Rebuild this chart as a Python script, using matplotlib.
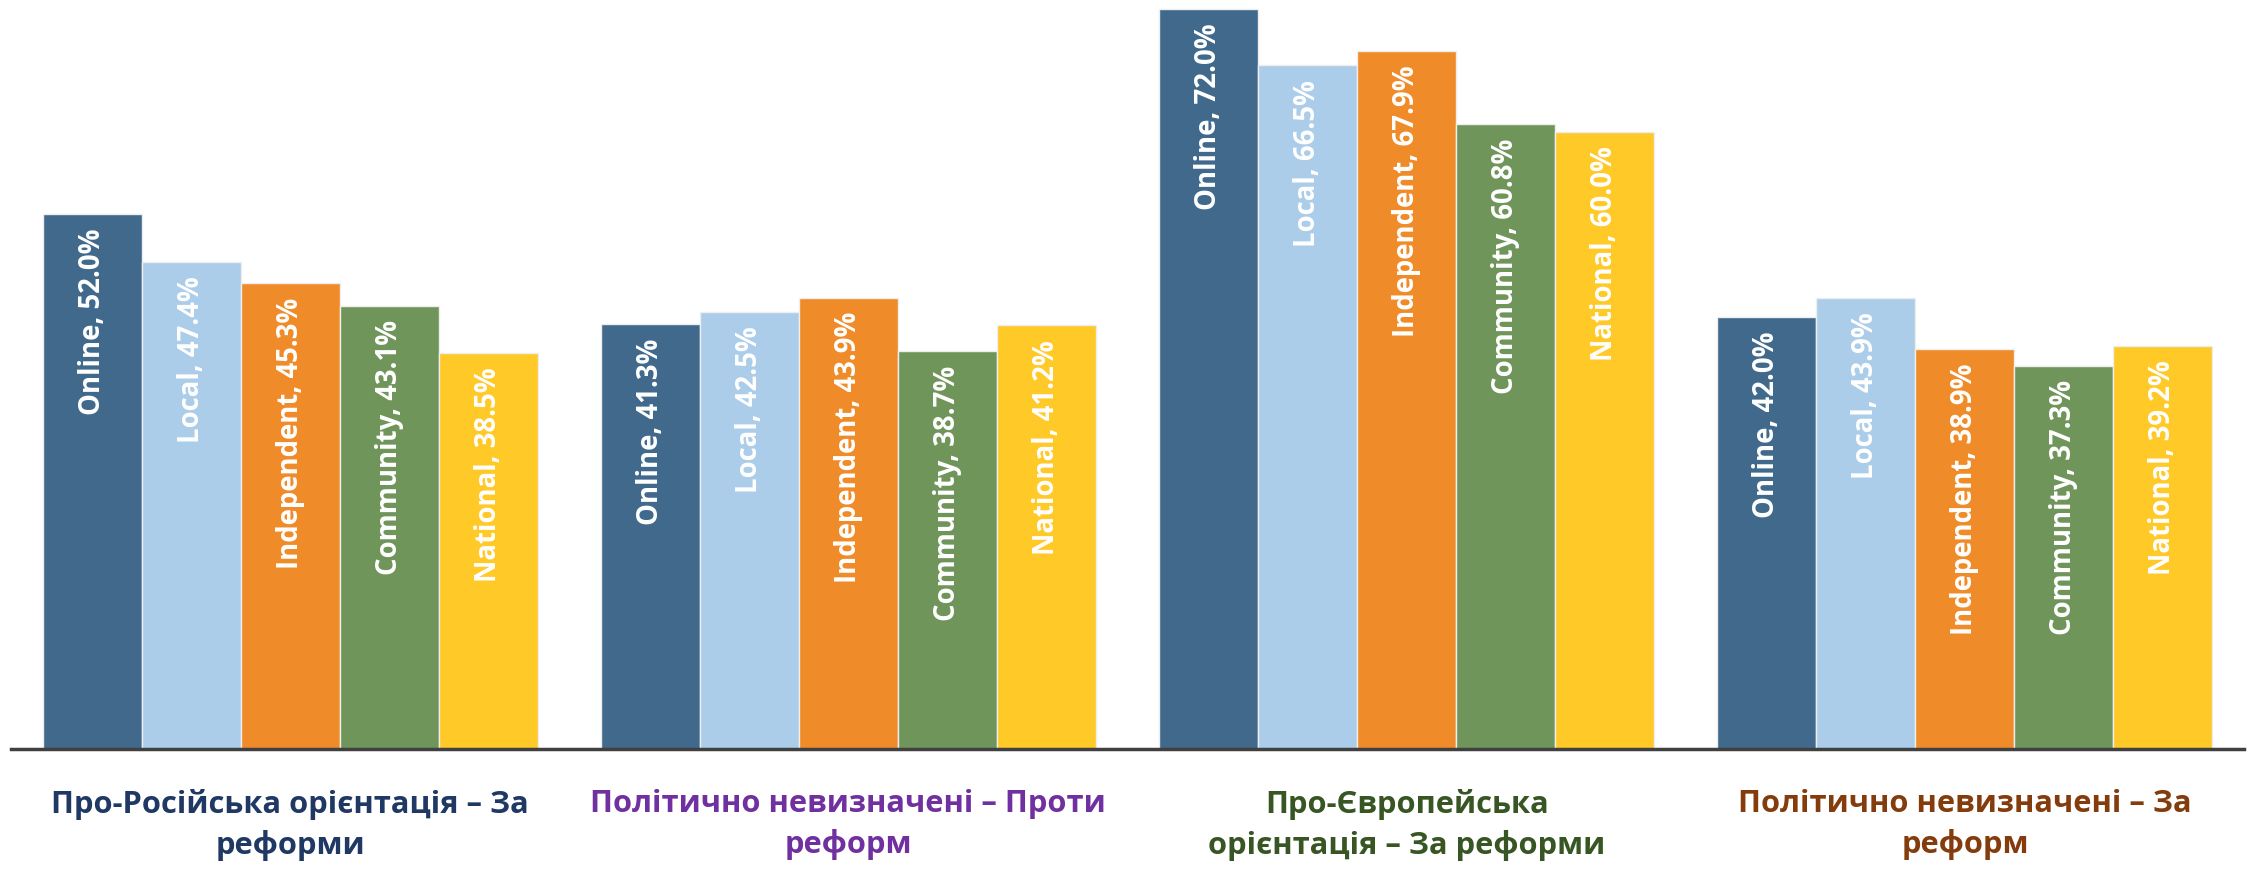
import matplotlib
matplotlib.use("Agg")
import matplotlib.pyplot as plt
import numpy as np

categories = [
    "Про-Російська орієнтація – За\nреформи",
    "Політично невизначені – Проти\nреформ",
    "Про-Європейська\nорієнтація – За реформи",
    "Політично невизначені – За\nреформ",
]
category_colors = ["#1F3864", "#7030A0", "#375623", "#843C0C"]

series = ["Online", "Local", "Independent", "Community", "National"]
series_colors = ["#41698C", "#ABCDE9", "#F08B2A", "#70955A", "#FFC928"]

online = [52.0, 41.3, 72.0, 42.0]
local = [47.4, 42.5, 66.5, 43.9]
independent = [45.3, 43.9, 67.9, 38.9]
community = [43.1, 38.7, 60.8, 37.3]
national = [38.5, 41.2, 60.0, 39.2]
values = [online, local, independent, community, national]

plt.rcParams['font.family'] = ['Open Sans', 'DejaVu Sans']

fig = plt.figure(figsize=(22.5, 8.69), dpi=100)
ax = fig.add_axes([11 / 2250, 120 / 869, (2244 - 11) / 2250, 749 / 869])

x = np.arange(len(categories))
bw = 0.1774
for i, (name, vals, col) in enumerate(zip(series, values, series_colors)):
    pos = x + (i - 2) * bw
    ax.bar(pos, vals, width=bw, color=col, edgecolor="#EEEEEE", linewidth=1.0, zorder=2)
    for px, v in zip(pos, vals):
        ax.text(px, v - 1.4, f"{name}, {v:.1f}%", rotation=90, ha="center", va="top",
                color="white", fontsize=19.8, fontweight="bold", zorder=3)

ax.set_xlim(-0.5, 3.5)
ax.set_ylim(0, 72.86)
for s in ["top", "right", "left"]:
    ax.spines[s].set_visible(False)
ax.spines["bottom"].set_color("#404040")
ax.spines["bottom"].set_linewidth(2.5)
ax.spines["bottom"].set_zorder(4)
ax.set_yticks([])
ax.set_xticks(x)
ax.set_xticklabels([])
ax.tick_params(axis="x", length=0)

for xi, lab, col in zip(x, categories, category_colors):
    ax.text(xi, -3.9, lab, ha="center", va="top", color=col, fontsize=22.2,
            fontweight="bold", linespacing=1.42, transform=ax.transData, clip_on=False)

fig.savefig("out.png", dpi=100)
